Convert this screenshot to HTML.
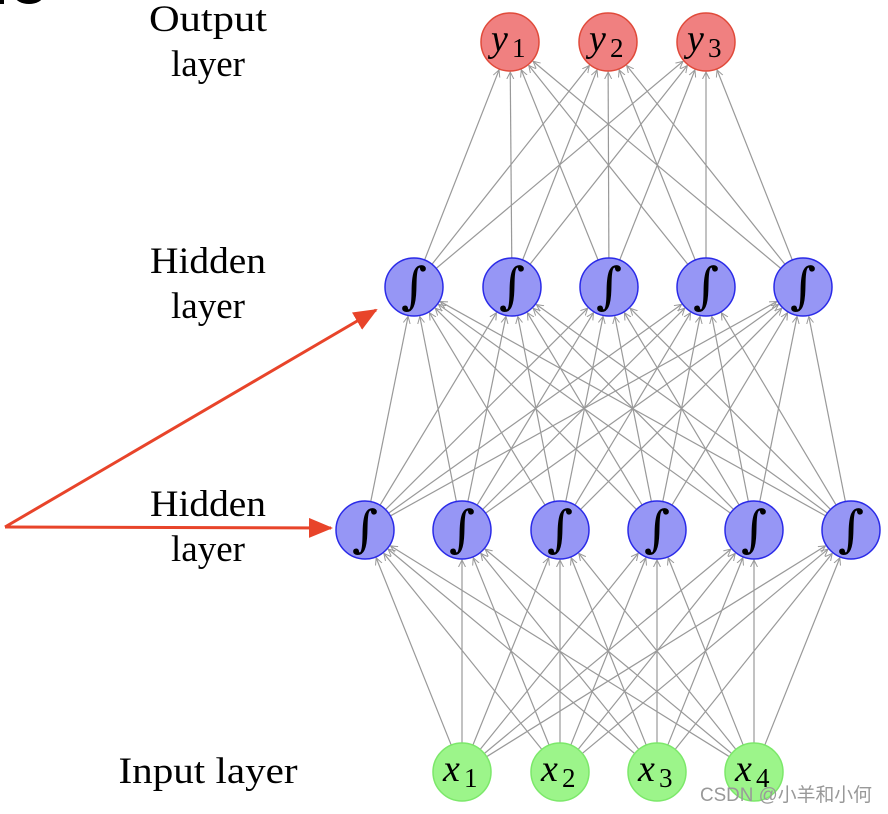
<!DOCTYPE html>
<html><head><meta charset="utf-8"><style>
html,body{margin:0;padding:0;background:#fff;width:888px;height:814px;overflow:hidden}
</style></head><body>
<svg id="s" width="888" height="814" xmlns="http://www.w3.org/2000/svg" font-family="Liberation Serif, serif">
<defs>
<marker id="g" markerWidth="8" markerHeight="8" refX="7" refY="4" orient="auto" markerUnits="userSpaceOnUse">
<path d="M0,0.5 L7,4 L0,7.5" fill="none" stroke="#999" stroke-width="1"/></marker>
<marker id="r" markerWidth="24" markerHeight="20" refX="22" refY="10" orient="auto" markerUnits="userSpaceOnUse">
<path d="M0,0 L24,10 L0,20 Z" fill="#e8442a"/></marker>
</defs>
<ellipse cx="29" cy="-4" rx="14" ry="8" fill="#000"/>
<rect x="0" y="0" width="4" height="4" fill="#000"/>
<g id="lines"></g>
<g id="nodes"></g>
<line x1="5" y1="527" x2="376" y2="310" stroke="#e8442a" stroke-width="3" marker-end="url(#r)"/>
<line x1="5" y1="527" x2="331" y2="528" stroke="#e8442a" stroke-width="3" marker-end="url(#r)"/>
<g font-size="37" text-anchor="middle" fill="#000">
<text x="208" y="31" textLength="118" lengthAdjust="spacingAndGlyphs">Output</text><text x="208" y="76">layer</text>
<text x="208" y="273" textLength="116" lengthAdjust="spacingAndGlyphs">Hidden</text><text x="208" y="318">layer</text>
<text x="208" y="516" textLength="116" lengthAdjust="spacingAndGlyphs">Hidden</text><text x="208" y="561">layer</text>
<text x="208" y="783" textLength="179" lengthAdjust="spacingAndGlyphs">Input layer</text>
</g>
<text x="700" y="801" font-family="Liberation Sans, Noto Sans CJK SC, sans-serif" font-size="19" fill="#999" textLength="172" lengthAdjust="spacingAndGlyphs">CSDN @小羊和小何</text>
</svg>
<script>
var R=29,ns="http://www.w3.org/2000/svg";
var L=[{y:772,xs:[462,560,657,754],f:"#9cf58a",s:"#7ce86a",t:"x",sub:[1,2,3,4]},
{y:530,xs:[365,462,560,657,754,851],f:"#9696f5",s:"#2a2ae8",t:"∫"},
{y:287,xs:[414,512,609,706,803],f:"#9696f5",s:"#2a2ae8",t:"∫"},
{y:42,xs:[510,608,706],f:"#f08080",s:"#e04a3a",t:"y",sub:[1,2,3]}];
var lg=document.getElementById("lines"),ng=document.getElementById("nodes");
function el(n,a,p){var e=document.createElementNS(ns,n);for(var k in a)e.setAttribute(k,a[k]);p.appendChild(e);return e;}
for(var i=0;i<3;i++){var A=L[i],B=L[i+1];
A.xs.forEach(function(x1){B.xs.forEach(function(x2){
var dx=x2-x1,dy=B.y-A.y,d=Math.hypot(dx,dy),ux=dx/d,uy=dy/d;
el("line",{x1:x1+ux*R,y1:A.y+uy*R,x2:x2-ux*(R+1),y2:B.y-uy*(R+1),stroke:"#999","stroke-width":1.2,"marker-end":"url(#g)"},lg);});});}
L.forEach(function(l){l.xs.forEach(function(x,j){
el("circle",{cx:x,cy:l.y,r:R,fill:l.f,stroke:l.s,"stroke-width":1.5},ng);
if(l.sub){var t=el("text",{x:x-19,y:l.y+9,"font-size":38,"font-style":"italic","font-family":"Liberation Serif, serif"},ng);t.textContent=l.t;
var u=el("text",{x:x+2,y:l.y+15,"font-size":27,"font-family":"Liberation Serif, serif"},ng);u.textContent=l.sub[j];}
else{var t=el("text",{x:x,y:l.y+16,"font-size":50,"text-anchor":"middle","font-style":"italic","font-family":"DejaVu Serif, serif"},ng);t.textContent="∫";}
});});
</script>
</body></html>
